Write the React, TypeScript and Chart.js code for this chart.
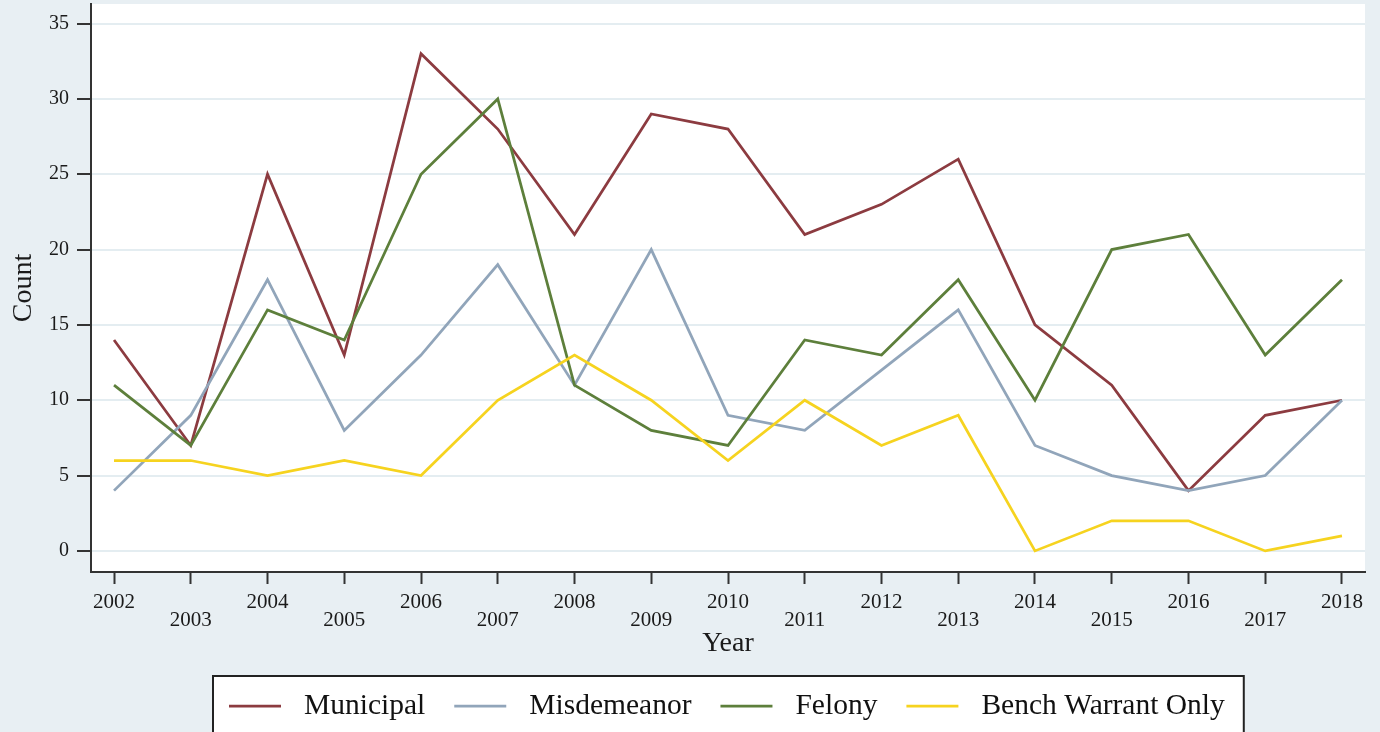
import React, { useEffect, useRef } from "react";
import { Chart, registerables } from "chart.js";

Chart.register(...registerables);

// ---- Data ----
const years = [2002, 2003, 2004, 2005, 2006, 2007, 2008, 2009, 2010, 2011, 2012, 2013, 2014, 2015, 2016, 2017, 2018];
const municipal = [14, 7, 25, 13, 33, 28, 21, 29, 28, 21, 23, 26, 15, 11, 4, 9, 10];
const misdemeanor = [4, 9, 18, 8, 13, 19, 11, 20, 9, 8, 12, 16, 7, 5, 4, 5, 10];
const felony = [11, 7, 16, 14, 25, 30, 11, 8, 7, 14, 13, 18, 10, 20, 21, 13, 18];
const benchWarrant = [6, 6, 5, 6, 5, 10, 13, 10, 6, 10, 7, 9, 0, 2, 2, 0, 1];
const yTicks = [0, 5, 10, 15, 20, 25, 30, 35];
const seriesNames = ["Municipal", "Misdemeanor", "Felony", "Bench Warrant Only"];
const seriesValues = [municipal, misdemeanor, felony, benchWarrant];
const seriesColors = ["#8c3b40", "#91a5ba", "#5d7f3b", "#f6d31f"];

const SERIF = "'Liberation Serif', 'Times New Roman', serif";
const PAGE_BG = "#e8eff3";
const AXIS = "#333333";

const plotBackground = {
  id: "plotBackground",
  beforeDraw(chart: any) {
    const { ctx, chartArea } = chart;
    ctx.save();
    ctx.fillStyle = "#ffffff";
    ctx.fillRect(chartArea.left, chartArea.top, chartArea.right - chartArea.left, chartArea.bottom - chartArea.top);
    ctx.restore();
  },
};

const boxedLegend = {
  id: "boxedLegend",
  afterDraw(chart: any) {
    const { ctx, chartArea } = chart;
    const lineLen = 52;
    const lineGap = 23;
    const itemGap = 29;
    const padL = 16;
    const padR = 19;
    ctx.save();
    ctx.font = `29.5px ${SERIF}`;
    const widths = seriesNames.map((n) => ctx.measureText(n).width);
    let content = 0;
    widths.forEach((w, i) => {
      content += lineLen + lineGap + w + (i < widths.length - 1 ? itemGap : 0);
    });
    const boxW = content + padL + padR;
    const cx = (chartArea.left + chartArea.right) / 2;
    const left = Math.round(cx - boxW / 2);
    const top = chart.height - 56;
    ctx.fillStyle = "#ffffff";
    ctx.fillRect(left, top, boxW, 80);
    ctx.strokeStyle = "#222222";
    ctx.lineWidth = 2;
    ctx.strokeRect(left, top, boxW, 80);
    const cy = top + 30;
    let x = left + padL;
    seriesNames.forEach((name, i) => {
      ctx.strokeStyle = seriesColors[i];
      ctx.lineWidth = 2.75;
      ctx.beginPath();
      ctx.moveTo(x, cy);
      ctx.lineTo(x + lineLen, cy);
      ctx.stroke();
      x += lineLen + lineGap;
      ctx.fillStyle = "#111111";
      ctx.textBaseline = "middle";
      ctx.textAlign = "left";
      ctx.fillText(name, x, cy);
      x += widths[i] + itemGap;
    });
    ctx.restore();
  },
};

export default function App() {
  const canvasRef = useRef<HTMLCanvasElement | null>(null);

  useEffect(() => {
    if (!canvasRef.current) return;
    const datasets = seriesNames.map((name, i) => ({
      label: name,
      data: years.map((yr, j) => ({ x: yr, y: seriesValues[i][j] })),
      borderColor: seriesColors[i],
      backgroundColor: seriesColors[i],
      borderWidth: 2.75,
      pointRadius: 0,
      tension: 0,
      fill: false,
      order: seriesNames.length - i,
    }));

    const chart = new Chart(canvasRef.current, {
      type: "line",
      data: { datasets },
      plugins: [plotBackground, boxedLegend],
      options: {
        animation: false,
        responsive: true,
        maintainAspectRatio: false,
        layout: { padding: { left: 0, top: 4, right: 15, bottom: 72 } },
        plugins: {
          legend: { display: false },
          tooltip: { enabled: false },
        },
        scales: {
          x: {
            type: "linear",
            min: 2001.7,
            max: 2018.3,
            afterBuildTicks: (scale: any) => {
              scale.ticks = years.map((v) => ({ value: v }));
            },
            afterFit: (scale: any) => {
              scale.height = 88;
              scale.paddingLeft = 0;
              scale.paddingRight = 0;
            },
            border: { display: true, color: AXIS, width: 2 },
            grid: {
              display: true,
              drawOnChartArea: false,
              drawTicks: true,
              tickLength: 12,
              tickWidth: 2,
              tickColor: AXIS,
            },
            ticks: {
              autoSkip: false,
              maxRotation: 0,
              minRotation: 0,
              padding: 9,
              color: "#1a1a1a",
              font: { family: SERIF, size: 21, lineHeight: "18px" },
              callback: (v: any) => (Number(v) % 2 === 0 ? String(v) : ["", String(v)]),
            },
            title: {
              display: true,
              text: "Year",
              color: "#1a1a1a",
              font: { family: SERIF, size: 28 },
              padding: { top: 0, bottom: 0 },
            },
          },
          y: {
            type: "linear",
            min: -1.4,
            max: 36.3,
            afterBuildTicks: (scale: any) => {
              scale.ticks = yTicks.map((v) => ({ value: v }));
            },
            afterFit: (scale: any) => {
              scale.width = 91;
              scale.paddingTop = 0;
              scale.paddingBottom = 0;
            },
            border: { display: true, color: AXIS, width: 2 },
            grid: {
              display: true,
              color: "#e4edf1",
              lineWidth: 2,
              drawTicks: true,
              tickLength: 14,
              tickWidth: 2,
              tickColor: AXIS,
            },
            ticks: {
              padding: 8,
              color: "#1a1a1a",
              font: { family: SERIF, size: 20 },
            },
            title: {
              display: true,
              text: "Count",
              color: "#1a1a1a",
              font: { family: SERIF, size: 28 },
              padding: { top: 7, bottom: 0 },
            },
          },
        },
      } as any,
    });

    return () => chart.destroy();
  }, []);

  return (
    <div
      style={{
        position: "absolute",
        left: 0,
        top: 0,
        width: 1380,
        height: 732,
        background: PAGE_BG,
        overflow: "hidden",
      }}
    >
      <canvas ref={canvasRef} />
    </div>
  );
}
